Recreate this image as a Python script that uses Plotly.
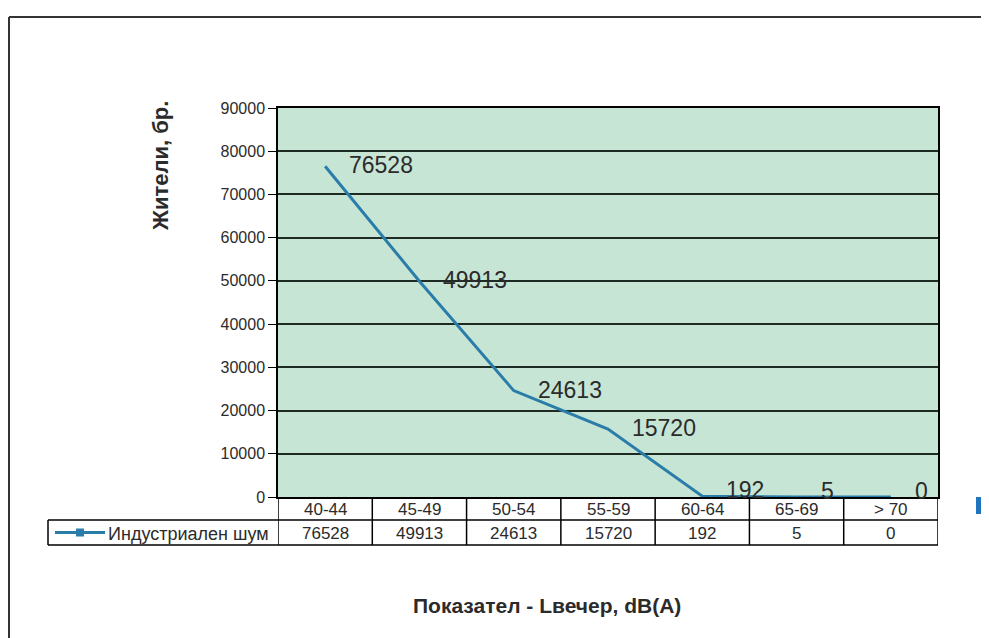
import plotly.graph_objects as go

categories = ["40-44", "45-49", "50-54", "55-59", "60-64", "65-69", "> 70"]
residents = [76528, 49913, 24613, 15720, 192, 5, 0]
series_name = "Индустриален шум"
y_ticks = [0, 10000, 20000, 30000, 40000, 50000, 60000, 70000, 80000, 90000]

# the page has an 8px body margin, so the figure is a bit smaller than the window
OFF = 8
W, H = 989 - OFF, 638 - OFF
L, R, T, B = 278 - OFF, 51, 108 - OFF, 141
PW, PH = W - L - R, H - T - B
line_color = "#2a7da8"
grid_color = "#1e2a24"
text_color = "#2b2b2b"
font = "Liberation Sans, Arial, sans-serif"


def px_x(p):
    # window pixel -> paper coordinate
    return (p - OFF - L) / PW


def px_y(p):
    return (OFF + T + PH - p) / PH


def label(x, y, text, size, xref="paper", yref="paper", xanchor="center", **kw):
    return dict(x=x, y=y, xref=xref, yref=yref, text=text, showarrow=False,
                xanchor=xanchor, yanchor="middle",
                font=dict(family=font, size=size, color=text_color), **kw)


fig = go.Figure()
fig.add_trace(go.Scatter(x=categories, y=residents, mode="lines", name=series_name,
                         line=dict(color=line_color, width=3), cliponaxis=False,
                         showlegend=False))

annotations = []
# data labels, right of each point
for c, v in zip(categories, residents):
    annotations.append(label(c, v, str(v), 23, xref="x", yref="y", xanchor="left",
                             xshift=22, yshift=1 if v > 1000 else 6))

# data table under the plot
row1_top, row1_bot, row2_bot = 497, 520, 545
shapes = []
for i in range(len(categories) + 1):
    shapes.append(dict(type="line", xref="x", yref="paper", x0=i - 0.5, x1=i - 0.5,
                       y0=px_y(row1_top), y1=px_y(row2_bot), line=dict(color="black", width=1.5)))
for yy in [row1_bot, row2_bot]:
    shapes.append(dict(type="line", xref="paper", yref="paper", x0=px_x(48), x1=px_x(938),
                       y0=px_y(yy), y1=px_y(yy), line=dict(color="black", width=1.5)))
shapes.append(dict(type="line", xref="paper", yref="paper", x0=px_x(48), x1=px_x(48),
                   y0=px_y(row1_bot), y1=px_y(row2_bot), line=dict(color="black", width=1.5)))
for c, v in zip(categories, residents):
    annotations.append(label(c, px_y((row1_top + row1_bot) / 2 + 1), c, 17, xref="x"))
    annotations.append(label(c, px_y((row1_bot + row2_bot) / 2 + 1), str(v), 17, xref="x"))

# legend key in the table
ly = (row1_bot + row2_bot) / 2
shapes.append(dict(type="line", xref="paper", yref="paper", x0=px_x(55), x1=px_x(105),
                   y0=px_y(ly), y1=px_y(ly), line=dict(color=line_color, width=3)))
shapes.append(dict(type="rect", xref="paper", yref="paper", x0=px_x(76), x1=px_x(84),
                   y0=px_y(ly + 4), y1=px_y(ly - 4), fillcolor=line_color, line=dict(width=0)))
annotations.append(label(px_x(106), px_y(ly + 1), series_name, 18, xanchor="left"))

# axis titles
annotations.append(label(px_x(160), px_y(166), "<b>Жители, бр.</b>", 22, textangle=-90))
annotations.append(label(px_x(547), px_y(605), "<b>Показател - Lвечер, dB(A)</b>", 21))

# outer frame of the scanned chart and the cut-off marker on the right
shapes.append(dict(type="line", xref="paper", yref="paper", x0=px_x(9), x1=px_x(989), y0=px_y(17), y1=px_y(17),
                   line=dict(color="#333333", width=2)))
shapes.append(dict(type="line", xref="paper", yref="paper", x0=px_x(9), x1=px_x(9), y0=px_y(17), y1=px_y(638),
                   line=dict(color="#333333", width=2)))
shapes.append(dict(type="rect", xref="paper", yref="paper", x0=px_x(976), x1=px_x(989),
                   y0=px_y(497), y1=px_y(514), fillcolor="#1f74bd", line=dict(width=0)))

fig.update_layout(
    width=W, height=H, margin=dict(l=L, r=R, t=T, b=B),
    paper_bgcolor="white", plot_bgcolor="#c7e5d5",
    xaxis=dict(type="category", range=[-0.5, 6.5], showticklabels=False, showgrid=False,
               zeroline=False, showline=True, linecolor="black", linewidth=1.5, mirror=True),
    yaxis=dict(range=[0, 90000], tickvals=y_ticks, ticktext=[str(t) for t in y_ticks],
               showgrid=True, gridcolor=grid_color, gridwidth=1.5, zeroline=False,
               showline=True, linecolor="black", linewidth=1.5, mirror=True,
               ticks="outside", ticklen=8, tickcolor="black",
               tickfont=dict(family=font, size=16, color=text_color)),
    shapes=shapes, annotations=annotations,
)
fig.write_html("out.html")
